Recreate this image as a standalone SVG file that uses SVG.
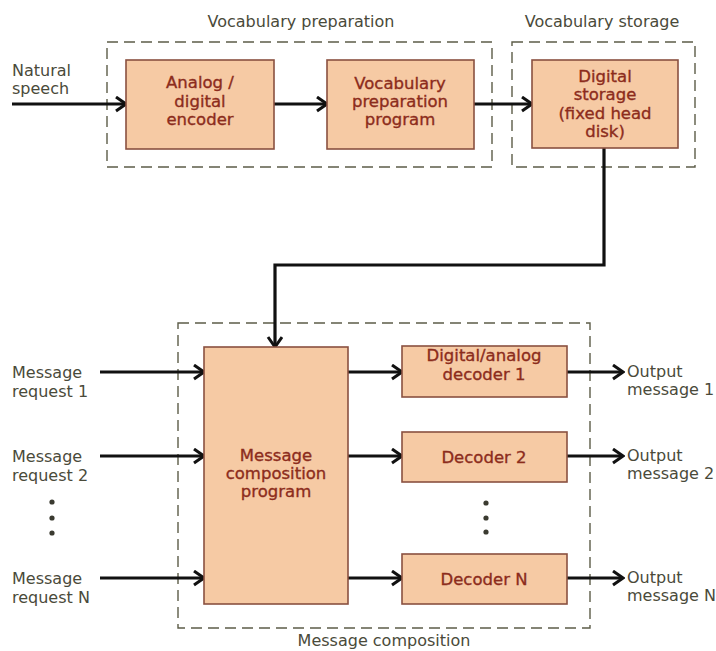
<svg xmlns="http://www.w3.org/2000/svg" width="716" height="651" viewBox="0 0 716 651">
  <defs>
    <style>
      .bg { fill: #ffffff; }
      .group-frame { fill: none; stroke: #5c5c48; stroke-width: 1.4; stroke-dasharray: 11 6; }
      .box { fill: #f6caa4; stroke: #8a5040; stroke-width: 1.6; }
      .box-text { font-family: "DejaVu Sans", "Liberation Sans", sans-serif; font-size: 16.5px; fill: #8c2c1c; stroke: #8c2c1c; stroke-width: 0.35; text-anchor: middle; }
      .label { font-family: "DejaVu Sans", "Liberation Sans", sans-serif; font-size: 16px; fill: #4a4a3a; }
      .title { font-family: "DejaVu Sans", "Liberation Sans", sans-serif; font-size: 16px; fill: #4a4a3a; text-anchor: middle; }
      .wire { fill: none; stroke: #111111; stroke-width: 3.2; }
      .dot { fill: #3a3a30; }
    </style>
    <marker id="arrow" markerUnits="userSpaceOnUse" markerWidth="14" markerHeight="18" refX="12" refY="8" orient="auto">
      <path d="M2,1 L12,8 L2,15" fill="none" stroke="#111111" stroke-width="3" stroke-linejoin="miter"/>
    </marker>
  </defs>

  <rect class="bg" x="0" y="0" width="716" height="651"/>

  <!-- Group frames -->
  <g id="frame-vocabulary-preparation">
    <rect class="group-frame" x="107" y="42" width="385" height="125"/>
    <text class="title" x="301" y="27">Vocabulary preparation</text>
  </g>
  <g id="frame-vocabulary-storage">
    <rect class="group-frame" x="512" y="42" width="183" height="125"/>
    <text class="title" x="602" y="27">Vocabulary storage</text>
  </g>
  <g id="frame-message-composition">
    <rect class="group-frame" x="178" y="323" width="412" height="305"/>
    <text class="title" x="384" y="646">Message composition</text>
  </g>

  <!-- Connectors -->
  <g id="connectors">
    <line class="wire" x1="12" y1="104" x2="126" y2="104" marker-end="url(#arrow)"/>
    <line class="wire" x1="274" y1="104" x2="327" y2="104" marker-end="url(#arrow)"/>
    <line class="wire" x1="474" y1="104" x2="532" y2="104" marker-end="url(#arrow)"/>
    <path class="wire" d="M604,148 V265 H275 V347" marker-end="url(#arrow)"/>

    <line class="wire" x1="100" y1="372" x2="204" y2="372" marker-end="url(#arrow)"/>
    <line class="wire" x1="100" y1="456" x2="204" y2="456" marker-end="url(#arrow)"/>
    <line class="wire" x1="100" y1="578" x2="204" y2="578" marker-end="url(#arrow)"/>

    <line class="wire" x1="348" y1="372" x2="402" y2="372" marker-end="url(#arrow)"/>
    <line class="wire" x1="348" y1="456" x2="402" y2="456" marker-end="url(#arrow)"/>
    <line class="wire" x1="348" y1="578" x2="402" y2="578" marker-end="url(#arrow)"/>

    <line class="wire" x1="567" y1="372" x2="623" y2="372" marker-end="url(#arrow)"/>
    <line class="wire" x1="567" y1="456" x2="623" y2="456" marker-end="url(#arrow)"/>
    <line class="wire" x1="567" y1="578" x2="623" y2="578" marker-end="url(#arrow)"/>
  </g>

  <!-- Nodes -->
  <g id="natural-speech">
    <text class="label" x="12" y="76">Natural</text>
    <text class="label" x="12" y="94">speech</text>
  </g>

  <g id="ad-encoder">
    <rect class="box" x="126" y="60" width="148" height="89"/>
    <text class="box-text" x="200" y="88">Analog /</text>
    <text class="box-text" x="200" y="107">digital</text>
    <text class="box-text" x="200" y="125">encoder</text>
  </g>

  <g id="vocab-prep-program">
    <rect class="box" x="327" y="60" width="147" height="89"/>
    <text class="box-text" x="400" y="89">Vocabulary</text>
    <text class="box-text" x="400" y="107">preparation</text>
    <text class="box-text" x="400" y="125">program</text>
  </g>

  <g id="digital-storage">
    <rect class="box" x="532" y="60" width="146" height="88"/>
    <text class="box-text" x="605" y="82">Digital</text>
    <text class="box-text" x="605" y="100">storage</text>
    <text class="box-text" x="605" y="119">(fixed head</text>
    <text class="box-text" x="605" y="137">disk)</text>
  </g>

  <g id="message-request-1">
    <text class="label" x="12" y="378">Message</text>
    <text class="label" x="12" y="397">request 1</text>
  </g>
  <g id="message-request-2">
    <text class="label" x="12" y="462">Message</text>
    <text class="label" x="12" y="481">request 2</text>
  </g>
  <g id="request-ellipsis">
    <circle class="dot" cx="52" cy="502" r="2.6"/>
    <circle class="dot" cx="52" cy="518" r="2.6"/>
    <circle class="dot" cx="52" cy="533" r="2.6"/>
  </g>
  <g id="message-request-n">
    <text class="label" x="12" y="584">Message</text>
    <text class="label" x="12" y="603">request N</text>
  </g>

  <g id="message-composition-program">
    <rect class="box" x="204" y="347" width="144" height="257"/>
    <text class="box-text" x="276" y="461">Message</text>
    <text class="box-text" x="276" y="479">composition</text>
    <text class="box-text" x="276" y="497">program</text>
  </g>

  <g id="decoder-1">
    <rect class="box" x="402" y="346" width="165" height="51"/>
    <text class="box-text" x="484" y="361">Digital/analog</text>
    <text class="box-text" x="484" y="380">decoder 1</text>
  </g>
  <g id="decoder-2">
    <rect class="box" x="402" y="432" width="165" height="50"/>
    <text class="box-text" x="484" y="463">Decoder 2</text>
  </g>
  <g id="decoder-ellipsis">
    <circle class="dot" cx="486" cy="503" r="2.6"/>
    <circle class="dot" cx="486" cy="518" r="2.6"/>
    <circle class="dot" cx="486" cy="532" r="2.6"/>
  </g>
  <g id="decoder-n">
    <rect class="box" x="402" y="554" width="165" height="50"/>
    <text class="box-text" x="484" y="585">Decoder N</text>
  </g>

  <g id="output-message-1">
    <text class="label" x="627" y="377">Output</text>
    <text class="label" x="627" y="395">message 1</text>
  </g>
  <g id="output-message-2">
    <text class="label" x="627" y="461">Output</text>
    <text class="label" x="627" y="479">message 2</text>
  </g>
  <g id="output-message-n">
    <text class="label" x="627" y="583">Output</text>
    <text class="label" x="627" y="601">message N</text>
  </g>
</svg>
